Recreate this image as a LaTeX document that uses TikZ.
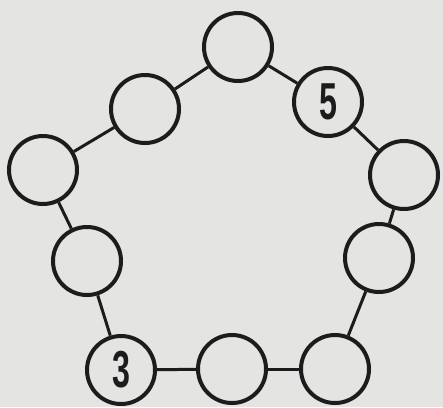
\documentclass[tikz,border=0pt]{standalone}
\usepackage{fontspec}
\setmainfont{Liberation Sans}
\definecolor{bg}{RGB}{228,228,226}
\definecolor{ink}{RGB}{28,28,28}
\begin{document}
\begin{tikzpicture}[x=1pt,y=-1pt,
  ball/.style={circle,draw=ink,line width=4pt,minimum size=68pt,inner sep=0pt,
    font=\fontsize{52}{52}\selectfont\bfseries,text=ink},
  link/.style={draw=ink,line width=3pt}]
\fill[bg] (0,0) rectangle (443,407);
\useasboundingbox (0,0) rectangle (443,407);
\node[ball] (t) at (238,47) {};
\node[ball] (ul) at (145,109) {};
\node[ball] (l) at (43,170) {};
\node[ball] (ll) at (87,261) {};
\node[ball] (b3) at (121,370) {\scalebox{0.62}[1]{3}};
\node[ball] (bm) at (232,369) {};
\node[ball] (br) at (335,369) {};
\node[ball] (rl) at (379,258) {};
\node[ball] (r) at (404,175) {};
\node[ball] (u5) at (328,102) {\scalebox{0.62}[1]{5}};
\draw[link] (t) -- (ul);
\draw[link] (ul) -- (l);
\draw[link] (l) -- (ll);
\draw[link] (ll) -- (b3);
\draw[link] (b3) -- (bm);
\draw[link] (bm) -- (br);
\draw[link] (br) -- (rl);
\draw[link] (rl) -- (r);
\draw[link] (r) -- (u5);
\draw[link] (u5) -- (t);
\end{tikzpicture}
\end{document}
